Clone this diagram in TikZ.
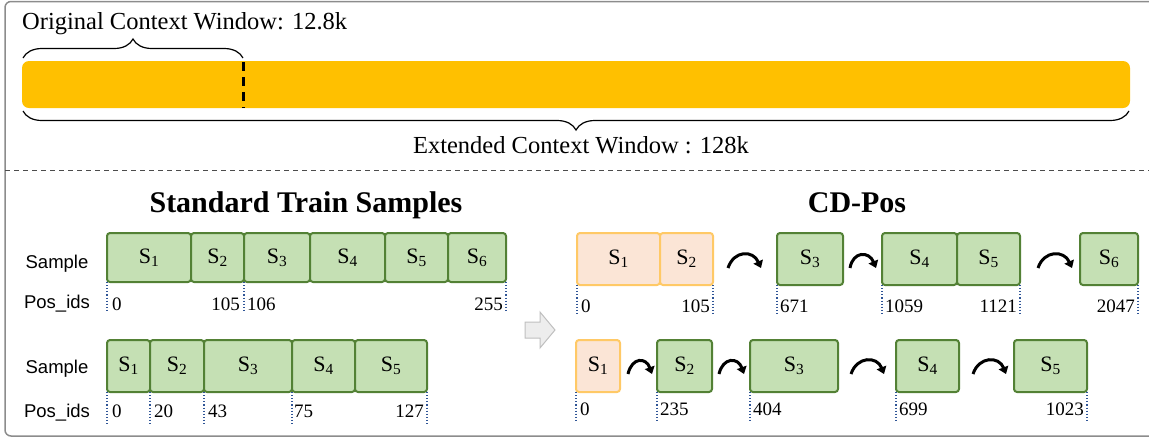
\documentclass[tikz,border=0pt]{standalone}
\usepackage{fontspec}
\setmainfont{Liberation Serif}
\newfontfamily\arialf{Liberation Sans}
\usetikzlibrary{decorations.pathreplacing,arrows.meta}
\definecolor{barc}{HTML}{FFC000}
\definecolor{gfill}{HTML}{C5E0B4}
\definecolor{gline}{HTML}{538135}
\definecolor{ofill}{HTML}{FBE5D6}
\definecolor{oline}{HTML}{FFC966}
\definecolor{dotc}{HTML}{2F5597}
\definecolor{framec}{HTML}{8C8C8C}
\begin{document}
\begin{tikzpicture}[x=1pt,y=-1pt,
  box/.style={anchor=north west, rounded corners=3pt, line width=2pt, inner sep=0pt, outer sep=0pt, font=\fontsize{22}{22}\selectfont},
  gbox/.style={box, fill=gfill, draw=gline},
  obox/.style={box, fill=ofill, draw=oline},
  lab/.style={anchor=base, inner sep=0pt, font=\arialf\fontsize{18.5}{20}\selectfont},
  numl/.style={anchor=base west, inner sep=0pt, font=\fontsize{19}{20}\selectfont},
  numr/.style={anchor=base east, inner sep=0pt, font=\fontsize{19}{20}\selectfont},
  guide/.style={dotc, dotted, line width=1.1pt},
  curv/.style={line width=3pt, -{Triangle[length=7pt,width=10pt]}},
  ttl/.style={anchor=base, inner sep=0pt, font=\bfseries\fontsize{30}{30}\selectfont},
  bigtxt/.style={inner sep=0pt, font=\fontsize{24.5}{25}\selectfont}]
\useasboundingbox (0,0) rectangle (1149,440);
% frame
\draw[framec, line width=1.5pt, rounded corners=6pt] (5,1.5) rectangle (1170,436);
% top section
\node[bigtxt, anchor=base west] (orig) at (22,29) {Original Context Window: 12.8k};
\fill[barc, rounded corners=7pt] (22,61) rectangle (1130,108);
\draw[line width=3pt, dash pattern=on 9pt off 6pt] (243,62) -- (243,108);
\draw[decorate, decoration={brace, amplitude=19pt}, line width=1.2pt] (23,58) -- (243,58);
\draw[decorate, decoration={brace, amplitude=19pt}, line width=1.2pt] (1129,111) -- (23,111);
\node[bigtxt, anchor=base] (ext) at (581,153) {Extended Context Window : 128k};
\draw[black!70, line width=1pt, dash pattern=on 5pt off 4pt] (5,170) -- (1149,170);
% titles
\node[ttl] (t1) at (306,212) {Standard Train Samples};
\node[ttl] (t2) at (857,212) {CD-Pos};
% labels
\node[lab] (s1) at (57,268) {Sample};
\node[lab] (p1) at (57,308) {Pos\_ids};
\node[lab] (s2) at (57,373) {Sample};
\node[lab] (p2) at (57,417) {Pos\_ids};
% left row 1
\node[gbox, minimum width=84pt, minimum height=49pt] (l1a) at (107,233) {S\textsubscript{1}};
\node[gbox, minimum width=53pt, minimum height=49pt] (l1b) at (191,233) {S\textsubscript{2}};
\node[gbox, minimum width=66pt, minimum height=49pt] (l1c) at (244,233) {S\textsubscript{3}};
\node[gbox, minimum width=75pt, minimum height=49pt] (l1d) at (310,233) {S\textsubscript{4}};
\node[gbox, minimum width=63pt, minimum height=49pt] (l1e) at (385,233) {S\textsubscript{5}};
\node[gbox, minimum width=58pt, minimum height=49pt] (l1f) at (448,233) {S\textsubscript{6}};
\draw[guide] (l1a.south west) -- ++(0,30);
\draw[guide] (l1c.south west) -- ++(0,30);
\draw[guide] (l1f.south east) -- ++(0,30);
\node[numl] (n1a) at (112,310) {0};
\node[numr] (n1b) at (240,310) {105};
\node[numl] (n1c) at (247,310) {106};
\node[numr] (n1d) at (503,310) {255};
% left row 2
\node[gbox, minimum width=43pt, minimum height=52pt] (l2a) at (107,340) {S\textsubscript{1}};
\node[gbox, minimum width=54pt, minimum height=52pt] (l2b) at (150,340) {S\textsubscript{2}};
\node[gbox, minimum width=88pt, minimum height=52pt] (l2c) at (204,340) {S\textsubscript{3}};
\node[gbox, minimum width=63pt, minimum height=52pt] (l2d) at (292,340) {S\textsubscript{4}};
\node[gbox, minimum width=72pt, minimum height=52pt] (l2e) at (355,340) {S\textsubscript{5}};
\draw[guide] (l2a.south west) -- ++(0,32);
\draw[guide] (l2b.south west) -- ++(0,32);
\draw[guide] (l2c.south west) -- ++(0,32);
\draw[guide] (l2d.south west) -- ++(0,32);
\draw[guide] (l2e.south east) -- ++(0,32);
\node[numl] (n2a) at (112,417) {0};
\node[numl] (n2b) at (154,417) {20};
\node[numl] (n2c) at (208,417) {43};
\node[numl] (n2d) at (294,417) {75};
\node[numr] (n2e) at (424,417) {127};
% gray arrow
\draw[fill=black!7, draw=black!25, line width=1pt, line join=miter]
  (525,322) -- (540,322) -- (540,312) -- (555,330) -- (540,348) -- (540,338) -- (525,338) -- cycle;
% right row 1
\node[obox, minimum width=83pt, minimum height=52pt] (r1a) at (577,233) {S\textsubscript{1}};
\node[obox, minimum width=53pt, minimum height=52pt] (r1b) at (660,233) {S\textsubscript{2}};
\node[gbox, minimum width=66pt, minimum height=52pt] (r1c) at (777,233) {S\textsubscript{3}};
\node[gbox, minimum width=75pt, minimum height=52pt] (r1d) at (882,233) {S\textsubscript{4}};
\node[gbox, minimum width=63pt, minimum height=52pt] (r1e) at (957,233) {S\textsubscript{5}};
\node[gbox, minimum width=58pt, minimum height=52pt] (r1f) at (1080,233) {S\textsubscript{6}};
\draw[guide] (r1a.south west) -- ++(0,30);
\draw[guide] (r1b.south east) -- ++(0,30);
\draw[guide] (r1c.south west) -- ++(0,30);
\draw[guide] (r1d.south west) -- ++(0,30);
\draw[guide] (r1e.south east) -- ++(0,30);
\draw[guide] (r1f.south east) -- ++(0,30);
\node[numl] (m1a) at (581,312) {0};
\node[numr] (m1b) at (710,312) {105};
\node[numl] (m1c) at (780,312) {671};
\node[numl] (m1d) at (885,312) {1059};
\node[numr] (m1e) at (1017,312) {1121};
\node[numr] (m1f) at (1135,312) {2047};
\coordinate (a1s) at (728,268); \coordinate (a1e) at (761,268);
\coordinate (a2s) at (850,268); \coordinate (a2e) at (876,268);
\coordinate (a3s) at (1038,268); \coordinate (a3e) at (1072,268);
\draw[curv] (a1s) .. controls (734,250) and (753,250) .. (a1e);
\draw[curv] (a2s) .. controls (853,251) and (869,251) .. (a2e);
\draw[curv] (a3s) .. controls (1044,250) and (1064,250) .. (a3e);
% right row 2
\node[obox, minimum width=44pt, minimum height=52pt] (r2a) at (576,340) {S\textsubscript{1}};
\node[gbox, minimum width=55pt, minimum height=52pt] (r2b) at (657,340) {S\textsubscript{2}};
\node[gbox, minimum width=88pt, minimum height=52pt] (r2c) at (750,340) {S\textsubscript{3}};
\node[gbox, minimum width=63pt, minimum height=52pt] (r2d) at (896,340) {S\textsubscript{4}};
\node[gbox, minimum width=73pt, minimum height=52pt] (r2e) at (1014,340) {S\textsubscript{5}};
\draw[guide] (r2a.south west) -- ++(0,30);
\draw[guide] (r2b.south west) -- ++(0,30);
\draw[guide] (r2c.south west) -- ++(0,30);
\draw[guide] (r2d.south west) -- ++(0,30);
\draw[guide] (r2e.south east) -- ++(0,30);
\node[numl] (m2a) at (580,415) {0};
\node[numl] (m2b) at (660,415) {235};
\node[numl] (m2c) at (753,415) {404};
\node[numl] (m2d) at (899,415) {699};
\node[numr] (m2e) at (1084,415) {1023};
\coordinate (b1s) at (628,374); \coordinate (b1e) at (652,374);
\coordinate (b2s) at (719,374); \coordinate (b2e) at (744,374);
\coordinate (b3s) at (851,374); \coordinate (b3e) at (884,374);
\coordinate (b4s) at (973,374); \coordinate (b4e) at (1006,374);
\draw[curv] (b1s) .. controls (632,357) and (646,357) .. (b1e);
\draw[curv] (b2s) .. controls (723,357) and (738,357) .. (b2e);
\draw[curv] (b3s) .. controls (857,356) and (877,356) .. (b3e);
\draw[curv] (b4s) .. controls (979,356) and (999,356) .. (b4e);
\end{tikzpicture}
\end{document}
